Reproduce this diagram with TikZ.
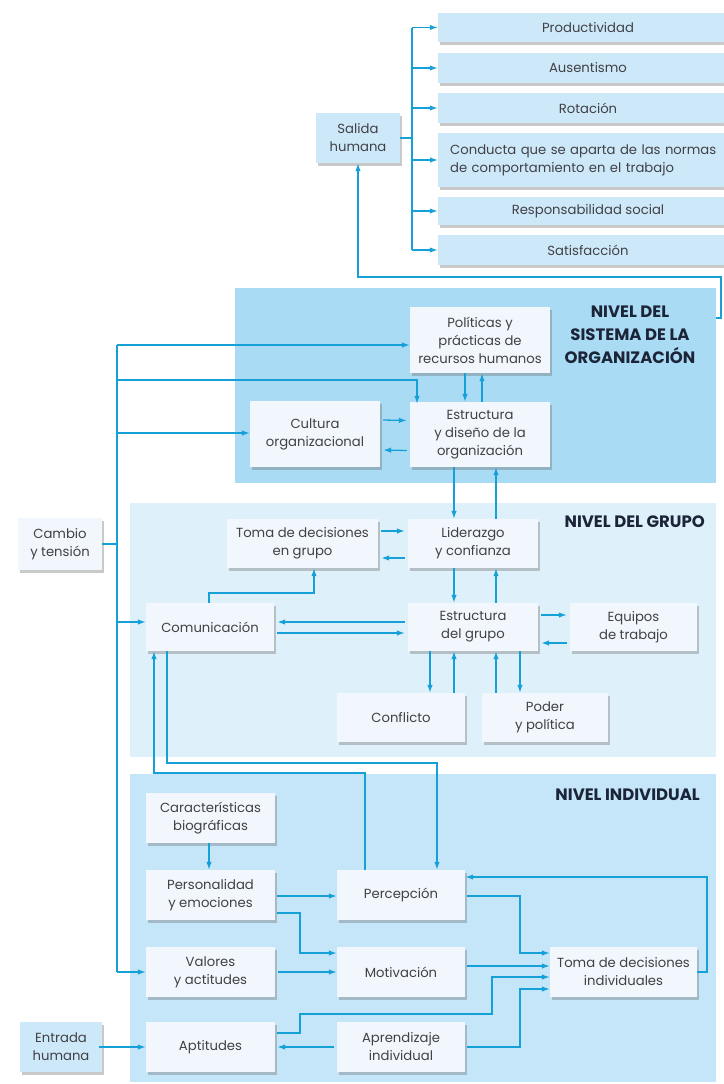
\documentclass[tikz,border=0pt]{standalone}
\usepackage{fontspec}
\setmainfont{Poppins}
\usetikzlibrary{arrows.meta,shadows,calc}
\definecolor{arrowc}{RGB}{22,160,216}
\definecolor{orgc}{RGB}{170,219,244}
\definecolor{grpc}{RGB}{222,241,251}
\definecolor{indc}{RGB}{196,230,248}
\definecolor{boxc}{RGB}{241,247,252}
\definecolor{outc}{RGB}{205,232,248}
\definecolor{txtc}{RGB}{65,65,70}
\definecolor{titc}{RGB}{28,36,56}
\begin{document}
\begin{tikzpicture}[x=1pt,y=-1pt,
  font=\fontsize{13.2}{18}\selectfont,
  ln/.style={draw=arrowc,line width=1.3pt},
  arr/.style={draw=arrowc,line width=1.3pt,-{Latex[length=8pt,width=5.5pt]}},
  bx/.style={fill=boxc,text=txtc,align=center,inner sep=1pt,
    drop shadow={shadow xshift=1.5pt,shadow yshift=-2.5pt,opacity=0.35,fill=black!60}},
  obx/.style={bx,fill=outc},
  panel/.style={inner sep=0pt,draw=none},
  titl/.style={text=titc,font=\fontsize{16.5}{23}\selectfont\bfseries,inner sep=0pt}]
\useasboundingbox (0,0) rectangle (723,1084);
\fill[white] (0,0) rectangle (723,1084);

% ---------- outputs ----------
\node[obx,minimum width=84,minimum height=50] (salida) at (358,138) {Salida\\humana};
\node[obx,minimum width=300,minimum height=29] (prod) at (588,27.5) {Productividad};
\node[obx,minimum width=300,minimum height=30] (aus) at (588,68) {Ausentismo};
\node[obx,minimum width=300,minimum height=30] (rot) at (588,108) {Rotación};
\node[obx,anchor=west,text width=280pt,inner xsep=12pt,minimum height=54,align=left] (cond) at (438,160) {Conducta que se aparta de las normas\\de comportamiento en el trabajo};
\node[obx,minimum width=300,minimum height=28] (resp) at (588,211) {Responsabilidad social};
\node[obx,minimum width=300,minimum height=30] (sat) at (588,250) {Satisfacción};

\coordinate (brT) at (412,27.5);
\coordinate (brB) at (412,250);
\draw[ln] (salida.east) -- (salida.east -| brT);
\draw[ln] (brT) -- (brB);
\foreach \n in {prod,aus,rot,cond,resp,sat}{
  \draw[arr] (\n.west -| brT) -- (\n.west);
}

% ---------- panels ----------
\node[panel,fill=orgc,minimum width=481,minimum height=195] (orgp) at (475.5,385.5) {};
\node[panel,fill=grpc,minimum width=586,minimum height=254] (grpp) at (423,630) {};
\node[panel,fill=indc,minimum width=586,minimum height=308] (indp) at (423,928) {};

\draw[arr] ([yshift=67.5pt]orgp.east) -- (721,318) -- (721,277) -- (358,277) -- (salida.south);

% ---------- organization level ----------
\node[titl,align=center] (torg) at (630,335) {NIVEL DEL\\SISTEMA DE LA\\ORGANIZACIÓN};
\node[bx,minimum width=140,minimum height=66,drop shadow={opacity=0}] (pol) at (480,340) {Políticas y\\prácticas de\\recursos humanos};
\node[bx,minimum width=140,minimum height=65,drop shadow={opacity=0}] (esto) at (480,434.5) {Estructura\\y diseño de la\\organización};
\node[bx,minimum width=130,minimum height=66,drop shadow={opacity=0}] (cult) at (315,434) {Cultura\\organizacional};

\draw[arr] ([xshift=-15pt]pol.south) -- ([xshift=-15pt]esto.north);
\draw[arr] ([xshift=2pt]esto.north) -- ([xshift=2pt]pol.south);
\draw[arr] ([yshift=14pt,xshift=3pt]cult.east) -- ([yshift=14pt,xshift=-3pt]esto.west);
\draw[arr] ([yshift=-16pt,xshift=-3pt]esto.west) -- ([yshift=-16pt,xshift=3pt]cult.east);

% ---------- left side ----------
\node[bx,fill=boxc,minimum width=84,minimum height=52] (cambio) at (60,544) {Cambio\\y tensión};
\node[obx,minimum width=82,minimum height=50] (ent) at (61,1047) {Entrada\\humana};

% ---------- group level ----------
\node[titl,anchor=east] (tgrp) at (705,522) {NIVEL DEL GRUPO};
\node[bx,minimum width=151,minimum height=49] (tomag) at (302.5,543.5) {Toma de decisiones\\en grupo};
\node[bx,minimum width=130,minimum height=49] (lid) at (473,543.5) {Liderazgo\\y confianza};
\node[bx,minimum width=128,minimum height=48] (com) at (210,627) {Comunicación};
\node[bx,minimum width=130,minimum height=48] (estg) at (473,627) {Estructura\\del grupo};
\node[bx,minimum width=127,minimum height=48] (equ) at (633.5,627) {Equipos\\de trabajo};
\node[bx,minimum width=128,minimum height=49] (conf) at (401,717.5) {Conflicto};
\node[bx,minimum width=126,minimum height=49] (pod) at (545,717.5) {Poder\\y política};

% ---------- individual level ----------
\node[titl,anchor=east] (tind) at (700,795) {NIVEL INDIVIDUAL};
\node[bx,minimum width=129,minimum height=50] (car) at (210.5,818) {Características\\biográficas};
\node[bx,minimum width=129,minimum height=50] (pers) at (210.5,895) {Personalidad\\y emociones};
\node[bx,minimum width=129,minimum height=50] (val) at (210.5,972) {Valores\\y actitudes};
\node[bx,minimum width=129,minimum height=50] (apt) at (210.5,1047) {Aptitudes};
\node[bx,minimum width=128,minimum height=50] (perc) at (401,895) {Percepción};
\node[bx,minimum width=128,minimum height=50] (mot) at (401,972) {Motivación};
\node[bx,minimum width=128,minimum height=50] (apr) at (401,1047) {Aprendizaje\\individual};
\node[bx,minimum width=147,minimum height=50] (tomai) at (623.5,972) {Toma de decisiones\\individuales};

% ---------- column / row helpers ----------
\coordinate (x417) at (417,0);
\coordinate (x454) at (454,0);
\coordinate (x496) at (496,0);
\coordinate (x430) at (430,0);
\coordinate (x520) at (520,0);
\coordinate (x209) at (209,0);
\coordinate (x314) at (314,0);
\coordinate (x167) at (167,0);
\coordinate (x154) at (154,0);
\coordinate (x365) at (365,0);
\coordinate (x437) at (437,0);

% ---------- bus from Cambio y tension ----------
\coordinate (busA) at (117,345);
\coordinate (busB) at (117,380);
\coordinate (busC) at (117,433);
\coordinate (busD) at (117,622);
\coordinate (busE) at (117,972);
\draw[ln] (busA) -- (busE);
\draw[ln] (cambio.east) -- (cambio.east -| busA);
\draw[arr] (busA) -- (busA -| pol.west);
\draw[arr] (busB) -| ([yshift=-2pt]esto.north -| x417);
\draw[arr] (busC) -- (busC -| cult.west);
\draw[arr] (busD) -- (busD -| com.west);
\draw[arr] (busE) -- (val.west);

% ---------- org <-> group ----------
\draw[arr] (esto.south -| x454) -- (lid.north -| x454);
\draw[arr] (lid.north -| x496) -- (esto.south -| x496);
\draw[arr] (lid.south -| x454) -- (estg.north -| x454);
\draw[arr] (estg.north -| x496) -- (lid.south -| x496);

% ---------- group ----------
\draw[arr] ([yshift=12.5pt,xshift=3pt]tomag.east) -- ([yshift=12.5pt,xshift=-3pt]lid.west);
\draw[arr] ([yshift=-14.5pt,xshift=-3pt]lid.west) -- ([yshift=-14.5pt,xshift=3pt]tomag.east);
\draw[arr] (com.north -| x209) -- (209,593) -- (314,593) -- (tomag.south -| x314);
\draw[arr] ([yshift=5pt,xshift=-3pt]estg.west) -- ([yshift=5pt,xshift=3pt]com.east);
\draw[arr] ([yshift=-6pt,xshift=3pt]com.east) -- ([yshift=-6pt,xshift=-3pt]estg.west);
\draw[arr] ([yshift=12pt,xshift=3pt]estg.east) -- ([yshift=12pt,xshift=-3pt]equ.west);
\draw[arr] ([yshift=-16pt,xshift=-3pt]equ.west) -- ([yshift=-16pt,xshift=3pt]estg.east);
\draw[arr] (estg.south -| x430) -- (conf.north -| x430);
\draw[arr] (conf.north -| x454) -- (estg.south -| x454);
\draw[arr] (pod.north -| x496) -- (estg.south -| x496);
\draw[arr] (estg.south -| x520) -- (pod.north -| x520);

% ---------- group <-> individual ----------
\draw[arr] (com.south -| x167) -- (167,763) -- (437,763) -- (perc.north -| x437);
\draw[arr] (perc.north -| x365) -- (365,773) -- (154,773) -- (com.south -| x154);

% ---------- individual ----------
\draw[arr] (car.south -| x209) -- (pers.north -| x209);
\draw[arr] ([xshift=2pt,yshift=-1pt]pers.east) -- ([yshift=-1pt]perc.west);
\draw[arr] ([xshift=2pt,yshift=-18pt]pers.east) -- (300,913) -- (300,953) -- ([yshift=19pt]mot.west);
\draw[arr] ([xshift=3pt]val.east) -- (mot.west);
\draw[arr] ([xshift=-3pt]ent.east) -- (apt.west);
\draw[arr] ([xshift=-3pt]apr.west) -- ([xshift=2pt]apt.east);
\draw[arr] ([xshift=2pt,yshift=-1pt]perc.east) -- (520,896) -- (520,953) -- ([yshift=19pt]tomai.west);
\draw[arr] ([xshift=2pt,yshift=6pt]mot.east) -- ([yshift=6pt]tomai.west);
\draw[arr] ([xshift=2pt,yshift=14pt]apt.east) -- (300,1033) -- (300,1014) -- (492,1014) -- (492,977) -- ([yshift=-5pt]tomai.west);
\draw[arr] ([xshift=2pt]apr.east) -- (520,1047) -- (520,989) -- ([yshift=-17pt]tomai.west);
\draw[arr] (tomai.east) -- (707,972) -- (707,877) -- ([yshift=18pt]perc.east);
\end{tikzpicture}
\end{document}
